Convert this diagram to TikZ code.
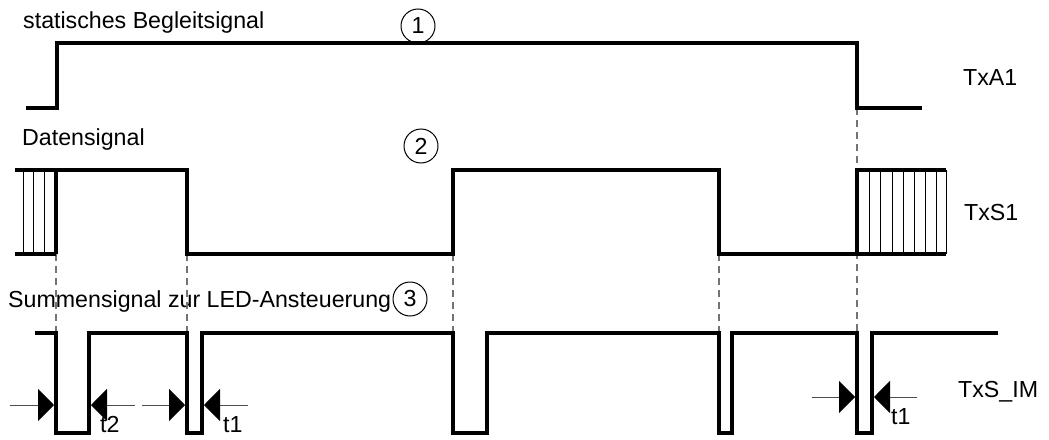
\documentclass[tikz,border=0pt]{standalone}
\usepackage{fontspec}
\setmainfont{Liberation Sans}
\usetikzlibrary{arrows.meta}
\begin{document}
\begin{tikzpicture}[x=1pt,y=-1pt,
  sig/.style={line width=3.4pt, line join=miter},
  hatch/.style={line width=1pt},
  guide/.style={line width=1.4pt, draw=black!55, dash pattern=on 7pt off 5pt},
  lbl/.style={anchor=base west, inner sep=0pt, font=\fontsize{23.2}{27}\selectfont},
  num/.style={draw, circle, line width=1pt, minimum size=34pt, inner sep=0pt, font=\fontsize{23.2}{27}\selectfont},
  dim/.style={line width=1pt, draw=black!70, -{Triangle[length=16pt,width=32pt,color=black]}}
]
\useasboundingbox (0,0) rectangle (1049,439);

% texts
\node[lbl] (tA) at (23,28) {statisches Begleitsignal};
\node[lbl] (tD) at (22,145) {Datensignal};
\node[lbl] (tS) at (8,307) {Summensignal zur LED-Ansteuerung};
\node[lbl] (nA) at (963,85) {TxA1};
\node[lbl] (nS) at (964,220) {TxS1};
\node[lbl] (nI) at (958,397) {TxS\_IM};
\node[num] (c1) at (418,26) {1};
\node[num] (c2) at (421,146) {2};
\node[num] (c3) at (410,299) {3};

% guide lines
\draw[guide] (857,108) -- (857,333);
\foreach \x in {56,187,453,719} \draw[guide] (\x,254) -- (\x,333);

% TxA1
\draw[sig] (26,108) -- (57,108) -- (57,43) -- (857,43) -- (857,108) -- (922,108);

% TxS1 hatched areas
\foreach \x in {23,33,44} \draw[hatch] (\x,170) -- (\x,254);
\foreach \x in {869,880,892,903,914,925,936,946} \draw[hatch] (\x,170) -- (\x,254);
\draw[sig] (15,170) -- (56,170);
\draw[sig] (15,254) -- (56,254);
\draw[sig] (857,254) -- (946,254);
\draw[sig] (56,254) -- (56,170) -- (187,170) -- (187,254) -- (453,254) -- (453,170)
  -- (719,170) -- (719,254) -- (857,254) -- (857,170) -- (946,170);

% TxS_IM
\draw[sig] (35,333) -- (56,333) -- (56,433) -- (89,433) -- (89,333)
  -- (187,333) -- (187,433) -- (202,433) -- (202,333)
  -- (453,333) -- (453,433) -- (487,433) -- (487,333)
  -- (719,333) -- (719,433) -- (732,433) -- (732,333)
  -- (857,333) -- (857,433) -- (872,433) -- (872,333) -- (998,333);

% dimension arrows
\coordinate (a1s) at (10,405);  \coordinate (a1e) at (54,405);
\coordinate (a2s) at (135,405); \coordinate (a2e) at (91,405);
\coordinate (a3s) at (142,405); \coordinate (a3e) at (185,405);
\coordinate (a4s) at (248,405); \coordinate (a4e) at (204,405);
\coordinate (a5s) at (812,397); \coordinate (a5e) at (855,397);
\coordinate (a6s) at (917,397); \coordinate (a6e) at (874,397);
\draw[dim] (a1s) -- (a1e);
\draw[dim] (a2s) -- (a2e);
\draw[dim] (a3s) -- (a3e);
\draw[dim] (a4s) -- (a4e);
\draw[dim] (a5s) -- (a5e);
\draw[dim] (a6s) -- (a6e);
\node[lbl] (t2) at (100,432) {t2};
\node[lbl] (t1a) at (223,432) {t1};
\node[lbl] (t1b) at (891,424) {t1};
\end{tikzpicture}
\end{document}
